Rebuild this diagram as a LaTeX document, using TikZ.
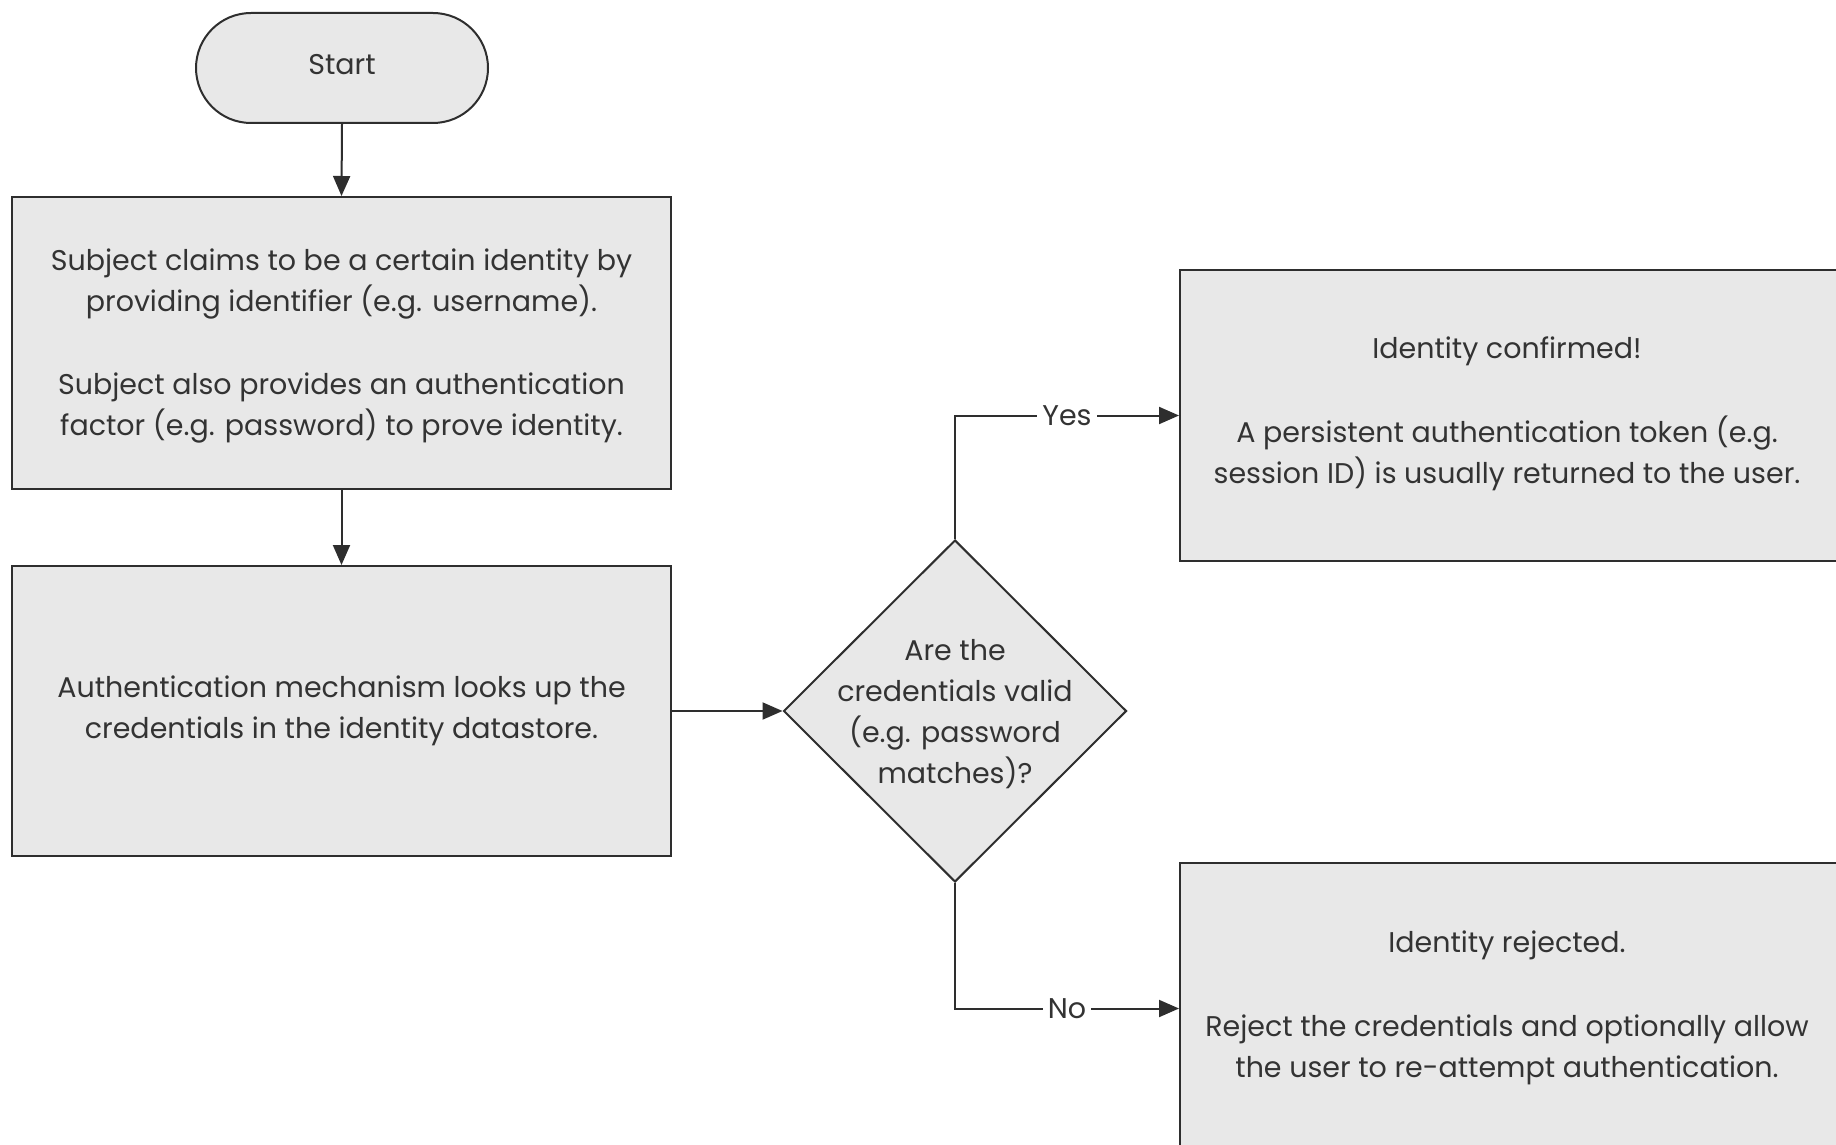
\documentclass[tikz,border=0pt]{standalone}
\usepackage{fontspec}
\setmainfont{Poppins}
\usetikzlibrary{shapes.geometric,arrows.meta}
\definecolor{boxfill}{HTML}{E8E8E8}
\definecolor{inkline}{HTML}{2E2E2E}
\definecolor{inktext}{HTML}{333333}
\tikzset{
  base/.style={draw=inkline, line width=2pt, fill=boxfill, inner sep=0pt},
  txt/.style={text=inktext, font=\fontsize{28.5}{41}\selectfont, align=center, inner sep=0pt},
  arr/.style={draw=inkline, line width=2pt, -{Triangle[length=20pt,width=17pt]}},
  lbl/.style={txt, fill=white, inner xsep=5pt, inner ysep=4pt}
}
\begin{document}
\begin{tikzpicture}[x=1pt,y=-1pt]
\useasboundingbox (0,0) rectangle (1836,1145);
\clip (0,0) rectangle (1836,1145);
\fill[white] (0,0) rectangle (1836,1145);
% start
\node[base, rectangle, rounded corners=55pt, minimum width=292pt, minimum height=110pt] (start) at (342,68) {};
\node[txt] (starttxt) at (342,65) {Start};
% box 1
\node[base, minimum width=659pt, minimum height=292pt] (box1) at (341.5,343) {};
\node[txt] (box1txt) at (341.5,346) {Subject claims to be a certain identity by\\providing identifier (e.g. username).\\[42pt]Subject also provides an authentication\\factor (e.g. password) to prove identity.};
% box 2
\node[base, minimum width=659pt, minimum height=290pt] (box2) at (341.5,711) {};
\node[txt] (box2txt) at (341.5,711) {Authentication mechanism looks up the\\credentials in the identity datastore.};
% diamond
\node[base, diamond, minimum width=343pt, minimum height=342pt] (dia) at (955,711) {};
\node[txt] (diatxt) at (955,714) {Are the\\credentials valid\\(e.g. password\\matches)?};
% yes box
\node[base, minimum width=670pt, minimum height=291pt, anchor=north west] (yesbox) at (1179,269) {};
\node[txt] (yestxt) at (1507,414) {Identity confirmed!\\[43pt]A persistent authentication token (e.g.\\session ID) is usually returned to the user.};
% no box
\node[base, minimum width=670pt, minimum height=291pt, anchor=north west] (nobox) at (1179,862) {};
\node[txt] (notxt) at (1507,1008) {Identity rejected.\\[43pt]Reject the credentials and optionally allow\\the user to re-attempt authentication.};
% connectors
\draw[arr] (start.south) -- (box1.north);
\draw[arr] (box1.south) -- (box2.north);
\draw[arr] (box2.east) -- (dia.west);
\draw[arr] (dia.north) |- node[lbl, pos=0.75] (yeslbl) {Yes} (yesbox.west);
\draw[arr] (dia.south) |- node[lbl, pos=0.75] (nolbl) {No} (nobox.west);
\end{tikzpicture}
\end{document}
